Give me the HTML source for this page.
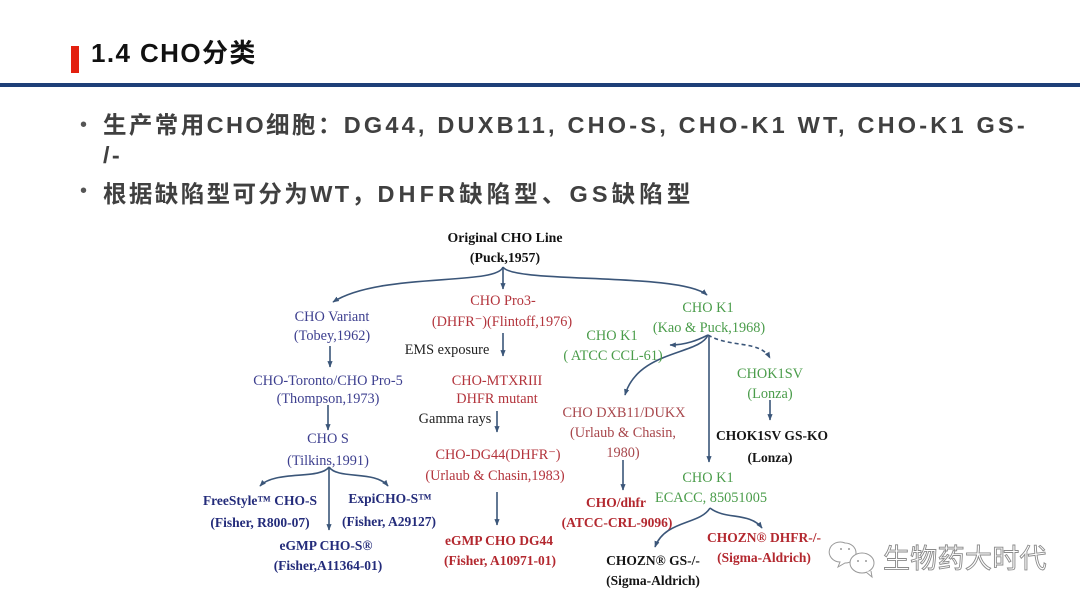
<!DOCTYPE html>
<html>
<head>
<meta charset="utf-8">
<style>
html,body{margin:0;padding:0;background:#fff;}
#page{position:relative;width:1080px;height:608px;overflow:hidden;background:#fff;}
.abs{position:absolute;white-space:nowrap;}
.title{left:91px;top:37px;font-family:"Liberation Sans","Noto Sans CJK SC",sans-serif;font-weight:bold;font-size:26px;line-height:32px;color:#111;letter-spacing:1.4px;}
.bar{left:71px;top:46px;width:8px;height:27px;background:#e3200f;}
.hline{left:0;top:83px;width:1080px;height:4px;background:#1e3f78;}
.bul{font-family:"Liberation Sans","Noto Sans CJK SC",sans-serif;font-weight:bold;font-size:23.5px;line-height:30px;color:#404040;letter-spacing:2.4px;}
.lat{letter-spacing:3.2px;}
.suf{letter-spacing:4.1px;}
.dot{font-family:"Liberation Sans",sans-serif;font-size:20px;color:#555;}
.wm{left:883px;top:540px;font-family:"Noto Sans CJK SC",sans-serif;font-size:27px;line-height:34px;color:#fff;-webkit-text-stroke:0.9px #8a8a8a;letter-spacing:0.3px;}
</style>
</head>
<body>
<div id="page">
  <div class="abs bar"></div>
  <div class="abs title">1.4 CHO分类</div>
  <div class="abs hline"></div>

  <div class="abs dot" style="left:80px;top:114px;">•</div>
  <div class="abs bul" style="left:103px;top:110px;">生产常用CHO细胞：<span class="lat">DG44, DUXB11, CHO-S, CHO-K1 WT, CHO-K1 GS-</span></div>
  <div class="abs bul" style="left:103px;top:140px;">/-</div>
  <div class="abs dot" style="left:80px;top:180px;">•</div>
  <div class="abs bul" style="left:103px;top:179px;">根据缺陷型可分为WT，<span class="suf">DHFR缺陷型、GS缺陷型</span></div>

  <svg class="abs" style="left:0;top:0" width="1080" height="608" viewBox="0 0 1080 608">
    <defs>
      <marker id="ah" viewBox="0 0 10 10" refX="9" refY="5" markerWidth="6.5" markerHeight="6.5" orient="auto" markerUnits="userSpaceOnUse">
        <path d="M0,1 L10,5 L0,9 Z" fill="#3b5679"/>
      </marker>
    </defs>
    <g fill="none" stroke="#3b5679" stroke-width="1.6" marker-end="url(#ah)">
      <path d="M503,267 C497,286 380,272 333,302"/>
      <path d="M503,267 L503,289"/>
      <path d="M503,267 C512,284 680,272 707,295"/>
      <path d="M330,346 L330,367"/>
      <path d="M328,405 L328,430"/>
      <path d="M503,333 L503,356"/>
      <path d="M497,411 L497,432"/>
      <path d="M497,492 L497,525"/>
      <path d="M329,467 C320,480 275,470 260,486"/>
      <path d="M329,467 C338,480 375,470 388,486"/>
      <path d="M329,467 L329,530"/>
      <path d="M708,335 C698,340 686,345 670,345"/>
      <path d="M708,335 C700,355 638,350 625,395"/>
      <path d="M708,335 C730,348 760,340 770,358" stroke-dasharray="4,3"/>
      <path d="M709,335 L709,462"/>
      <path d="M770,400 L770,420"/>
      <path d="M623,460 L623,490"/>
      <path d="M710,508 C700,525 665,520 655,547"/>
      <path d="M710,508 C725,520 750,512 762,528"/>
    </g>

    <g font-family="Liberation Serif, serif" font-size="14.3" text-anchor="middle">
      <g font-weight="bold" font-size="13.8" fill="#111">
        <text x="505" y="242">Original CHO Line</text>
        <text x="505" y="262">(Puck,1957)</text>
      </g>
      <g fill="#3d3f8f">
        <text x="332" y="321">CHO Variant</text>
        <text x="332" y="340">(Tobey,1962)</text>
        <text x="328" y="385">CHO-Toronto/CHO Pro-5</text>
        <text x="328" y="403">(Thompson,1973)</text>
        <text x="328" y="443">CHO S</text>
        <text x="328" y="465">(Tilkins,1991)</text>
      </g>
      <g fill="#232b7a" font-weight="bold" font-size="13.5">
        <text x="260" y="505">FreeStyle™ CHO-S</text>
        <text x="260" y="527">(Fisher, R800-07)</text>
        <text x="390" y="503">ExpiCHO-S™</text>
        <text x="389" y="526">(Fisher, A29127)</text>
        <text x="326" y="550">eGMP CHO-S®</text>
        <text x="328" y="570">(Fisher,A11364-01)</text>
      </g>
      <g fill="#b3343c">
        <text x="503" y="305">CHO Pro3-</text>
        <text x="502" y="326">(DHFR⁻)(Flintoff,1976)</text>
        <text x="497" y="385">CHO-MTXRIII</text>
        <text x="497" y="403">DHFR mutant</text>
        <text x="498" y="459">CHO-DG44(DHFR⁻)</text>
        <text x="495" y="480">(Urlaub &amp; Chasin,1983)</text>
      </g>
      <g fill="#222">
        <text x="447" y="354">EMS exposure</text>
        <text x="455" y="423">Gamma rays</text>
      </g>
      <g fill="#b3282f" font-weight="bold" font-size="13.5">
        <text x="499" y="545">eGMP CHO DG44</text>
        <text x="500" y="565">(Fisher, A10971-01)</text>
        <text x="616" y="507">CHO/dhfr</text>
        <text x="617" y="527">(ATCC-CRL-9096)</text>
        <text x="764" y="542">CHOZN® DHFR-/-</text>
        <text x="764" y="562">(Sigma-Aldrich)</text>
      </g>
      <g fill="#a8474c">
        <text x="624" y="417">CHO DXB11/DUKX</text>
        <text x="623" y="437">(Urlaub &amp; Chasin,</text>
        <text x="623" y="457">1980)</text>
      </g>
      <g fill="#4a9c4a">
        <text x="708" y="312">CHO K1</text>
        <text x="709" y="332">(Kao &amp; Puck,1968)</text>
        <text x="612" y="340">CHO K1</text>
        <text x="613" y="360">( ATCC CCL-61)</text>
        <text x="770" y="378">CHOK1SV</text>
        <text x="770" y="398">(Lonza)</text>
        <text x="708" y="482">CHO K1</text>
        <text x="711" y="502">ECACC, 85051005</text>
      </g>
      <g fill="#151515" font-weight="bold" font-size="13.5">
        <text x="772" y="440">CHOK1SV GS-KO</text>
        <text x="770" y="462">(Lonza)</text>
        <text x="653" y="565">CHOZN® GS-/-</text>
        <text x="653" y="585">(Sigma-Aldrich)</text>
      </g>
    </g>

    <g fill="#fff" stroke="#9a9a9a" stroke-width="1">
      <path d="M845,543 a11,10 0 1 0 -5,19 l-2,5 l7,-4 a11,10 0 0 0 0,-20 z"/>
      <ellipse cx="862" cy="563" rx="12" ry="10"/>
      <path d="M866,572 l6,5 l-1,-6" />
    </g>
    <g fill="#9a9a9a">
      <circle cx="841" cy="549" r="1"/><circle cx="849" cy="549" r="1"/>
      <circle cx="858" cy="561" r="1"/><circle cx="866" cy="561" r="1"/>
    </g>
  </svg>
  <div class="abs wm">生物药大时代</div>
</div>
</body>
</html>
